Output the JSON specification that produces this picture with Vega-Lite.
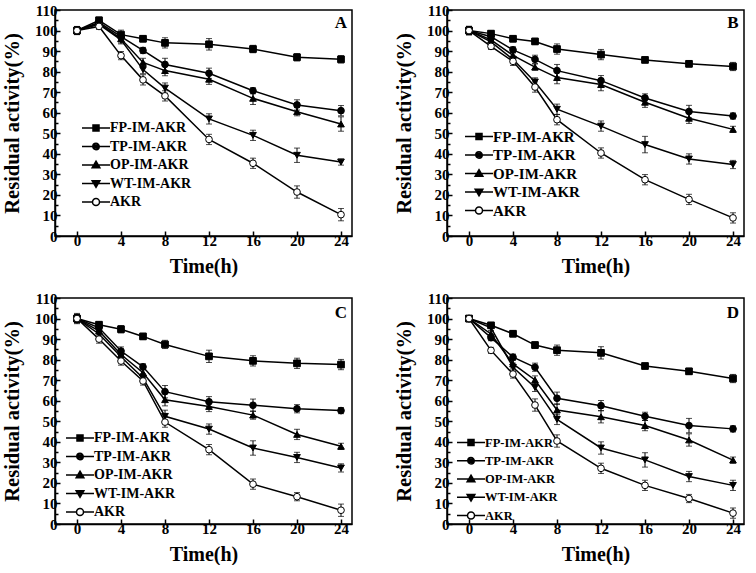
{
"$schema": "https://vega.github.io/schema/vega-lite/v6.json",
"padding": {"left": 1, "top": 2, "right": 0, "bottom": 0},
"background": "white",
"datasets": {
"labels": [{"p": "A"}, {"p": "B"}, {"p": "C"}, {"p": "D"}],
"d": [
{"p":"A","s":"FP-IM-AKR","t":0,"v":100,"lo":98.2,"hi":101.8},{"p":"A","s":"FP-IM-AKR","t":2,"v":105,"lo":103.5,"hi":106.5},{"p":"A","s":"FP-IM-AKR","t":4,"v":98,"lo":95.8,"hi":100.2},{"p":"A","s":"FP-IM-AKR","t":6,"v":96,"lo":94.5,"hi":97.5},{"p":"A","s":"FP-IM-AKR","t":8,"v":94,"lo":91.5,"hi":96.5},{"p":"A","s":"FP-IM-AKR","t":12,"v":93.3,"lo":90.5,"hi":96.1},{"p":"A","s":"FP-IM-AKR","t":16,"v":91,"lo":89.2,"hi":92.8},{"p":"A","s":"FP-IM-AKR","t":20,"v":87,"lo":85.2,"hi":88.8},{"p":"A","s":"FP-IM-AKR","t":24,"v":86,"lo":84.2,"hi":87.8},
{"p":"A","s":"TP-IM-AKR","t":0,"v":100,"lo":98.2,"hi":101.8},{"p":"A","s":"TP-IM-AKR","t":2,"v":104,"lo":102.8,"hi":105.2},{"p":"A","s":"TP-IM-AKR","t":4,"v":97,"lo":95,"hi":99},{"p":"A","s":"TP-IM-AKR","t":6,"v":90.3,"lo":88.8,"hi":91.8},{"p":"A","s":"TP-IM-AKR","t":8,"v":83.5,"lo":80.5,"hi":86.5},{"p":"A","s":"TP-IM-AKR","t":12,"v":79.2,"lo":76.7,"hi":81.7},{"p":"A","s":"TP-IM-AKR","t":16,"v":70.7,"lo":69.2,"hi":72.2},{"p":"A","s":"TP-IM-AKR","t":20,"v":63.8,"lo":61.3,"hi":66.3},{"p":"A","s":"TP-IM-AKR","t":24,"v":61,"lo":58.5,"hi":63.5},
{"p":"A","s":"OP-IM-AKR","t":0,"v":100,"lo":98.2,"hi":101.8},{"p":"A","s":"OP-IM-AKR","t":2,"v":103.5,"lo":102.5,"hi":104.5},{"p":"A","s":"OP-IM-AKR","t":4,"v":96,"lo":94,"hi":98},{"p":"A","s":"OP-IM-AKR","t":6,"v":84.5,"lo":82.5,"hi":86.5},{"p":"A","s":"OP-IM-AKR","t":8,"v":80.5,"lo":78,"hi":83},{"p":"A","s":"OP-IM-AKR","t":12,"v":76.3,"lo":73.8,"hi":78.8},{"p":"A","s":"OP-IM-AKR","t":16,"v":67,"lo":64,"hi":70},{"p":"A","s":"OP-IM-AKR","t":20,"v":60.5,"lo":58.5,"hi":62.5},{"p":"A","s":"OP-IM-AKR","t":24,"v":54.5,"lo":51,"hi":58},
{"p":"A","s":"WT-IM-AKR","t":0,"v":100,"lo":98.2,"hi":101.8},{"p":"A","s":"WT-IM-AKR","t":2,"v":103,"lo":102,"hi":104},{"p":"A","s":"WT-IM-AKR","t":4,"v":95.5,"lo":93.5,"hi":97.5},{"p":"A","s":"WT-IM-AKR","t":6,"v":81,"lo":79,"hi":83},{"p":"A","s":"WT-IM-AKR","t":8,"v":72,"lo":69.5,"hi":74.5},{"p":"A","s":"WT-IM-AKR","t":12,"v":57,"lo":54.5,"hi":59.5},{"p":"A","s":"WT-IM-AKR","t":16,"v":49,"lo":46.5,"hi":51.5},{"p":"A","s":"WT-IM-AKR","t":20,"v":39.3,"lo":35.8,"hi":42.8},{"p":"A","s":"WT-IM-AKR","t":24,"v":36,"lo":34.5,"hi":37.5},
{"p":"A","s":"AKR","t":0,"v":100,"lo":98,"hi":102},{"p":"A","s":"AKR","t":2,"v":102,"lo":100.5,"hi":103.5},{"p":"A","s":"AKR","t":4,"v":87.8,"lo":85.8,"hi":89.8},{"p":"A","s":"AKR","t":6,"v":76,"lo":73.5,"hi":78.5},{"p":"A","s":"AKR","t":8,"v":68.2,"lo":65.7,"hi":70.7},{"p":"A","s":"AKR","t":12,"v":47,"lo":44.5,"hi":49.5},{"p":"A","s":"AKR","t":16,"v":35.4,"lo":32.9,"hi":37.9},{"p":"A","s":"AKR","t":20,"v":21.4,"lo":18.4,"hi":24.4},{"p":"A","s":"AKR","t":24,"v":10.4,"lo":7.4,"hi":13.4},
{"p":"B","s":"FP-IM-AKR","t":0,"v":100,"lo":98,"hi":102},{"p":"B","s":"FP-IM-AKR","t":2,"v":98.5,"lo":97,"hi":100},{"p":"B","s":"FP-IM-AKR","t":4,"v":96,"lo":94.5,"hi":97.5},{"p":"B","s":"FP-IM-AKR","t":6,"v":94.7,"lo":93.2,"hi":96.2},{"p":"B","s":"FP-IM-AKR","t":8,"v":91,"lo":88.5,"hi":93.5},{"p":"B","s":"FP-IM-AKR","t":12,"v":88.3,"lo":85.8,"hi":90.8},{"p":"B","s":"FP-IM-AKR","t":16,"v":85.7,"lo":84.7,"hi":86.7},{"p":"B","s":"FP-IM-AKR","t":20,"v":83.8,"lo":82.3,"hi":85.3},{"p":"B","s":"FP-IM-AKR","t":24,"v":82.5,"lo":80.5,"hi":84.5},
{"p":"B","s":"TP-IM-AKR","t":0,"v":100,"lo":98,"hi":102},{"p":"B","s":"TP-IM-AKR","t":2,"v":97,"lo":95.5,"hi":98.5},{"p":"B","s":"TP-IM-AKR","t":4,"v":90.6,"lo":89.1,"hi":92.1},{"p":"B","s":"TP-IM-AKR","t":6,"v":86,"lo":84,"hi":88},{"p":"B","s":"TP-IM-AKR","t":8,"v":80.5,"lo":77.5,"hi":83.5},{"p":"B","s":"TP-IM-AKR","t":12,"v":75.6,"lo":73.1,"hi":78.1},{"p":"B","s":"TP-IM-AKR","t":16,"v":67.2,"lo":65.2,"hi":69.2},{"p":"B","s":"TP-IM-AKR","t":20,"v":60.6,"lo":57.6,"hi":63.6},{"p":"B","s":"TP-IM-AKR","t":24,"v":58.4,"lo":56.9,"hi":59.9},
{"p":"B","s":"OP-IM-AKR","t":0,"v":100,"lo":98,"hi":102},{"p":"B","s":"OP-IM-AKR","t":2,"v":95.5,"lo":94,"hi":97},{"p":"B","s":"OP-IM-AKR","t":4,"v":87.9,"lo":86.4,"hi":89.4},{"p":"B","s":"OP-IM-AKR","t":6,"v":82.2,"lo":80.7,"hi":83.7},{"p":"B","s":"OP-IM-AKR","t":8,"v":77.1,"lo":74.1,"hi":80.1},{"p":"B","s":"OP-IM-AKR","t":12,"v":73.7,"lo":70.7,"hi":76.7},{"p":"B","s":"OP-IM-AKR","t":16,"v":65.1,"lo":62.6,"hi":67.6},{"p":"B","s":"OP-IM-AKR","t":20,"v":57.3,"lo":54.8,"hi":59.8},{"p":"B","s":"OP-IM-AKR","t":24,"v":51.9,"lo":50.4,"hi":53.4},
{"p":"B","s":"WT-IM-AKR","t":0,"v":100,"lo":98,"hi":102},{"p":"B","s":"WT-IM-AKR","t":2,"v":94.5,"lo":93,"hi":96},{"p":"B","s":"WT-IM-AKR","t":4,"v":86,"lo":84.5,"hi":87.5},{"p":"B","s":"WT-IM-AKR","t":6,"v":75,"lo":73,"hi":77},{"p":"B","s":"WT-IM-AKR","t":8,"v":61.7,"lo":59.2,"hi":64.2},{"p":"B","s":"WT-IM-AKR","t":12,"v":53.5,"lo":51,"hi":56},{"p":"B","s":"WT-IM-AKR","t":16,"v":44.5,"lo":40.5,"hi":48.5},{"p":"B","s":"WT-IM-AKR","t":20,"v":37.5,"lo":35,"hi":40},{"p":"B","s":"WT-IM-AKR","t":24,"v":34.8,"lo":32.8,"hi":36.8},
{"p":"B","s":"AKR","t":0,"v":100,"lo":98,"hi":102},{"p":"B","s":"AKR","t":2,"v":92.3,"lo":90.8,"hi":93.8},{"p":"B","s":"AKR","t":4,"v":85,"lo":83,"hi":87},{"p":"B","s":"AKR","t":6,"v":72.5,"lo":70,"hi":75},{"p":"B","s":"AKR","t":8,"v":56.6,"lo":54.1,"hi":59.1},{"p":"B","s":"AKR","t":12,"v":40.4,"lo":37.9,"hi":42.9},{"p":"B","s":"AKR","t":16,"v":27.4,"lo":24.9,"hi":29.9},{"p":"B","s":"AKR","t":20,"v":17.8,"lo":15.3,"hi":20.3},{"p":"B","s":"AKR","t":24,"v":8.8,"lo":6.3,"hi":11.3},
{"p":"C","s":"FP-IM-AKR","t":0,"v":100,"lo":98,"hi":102},{"p":"C","s":"FP-IM-AKR","t":2,"v":97,"lo":95.5,"hi":98.5},{"p":"C","s":"FP-IM-AKR","t":4,"v":94.8,"lo":93,"hi":96.6},{"p":"C","s":"FP-IM-AKR","t":6,"v":91.3,"lo":89.8,"hi":92.8},{"p":"C","s":"FP-IM-AKR","t":8,"v":87.4,"lo":85.4,"hi":89.4},{"p":"C","s":"FP-IM-AKR","t":12,"v":81.6,"lo":78.6,"hi":84.6},{"p":"C","s":"FP-IM-AKR","t":16,"v":79.4,"lo":76.9,"hi":81.9},{"p":"C","s":"FP-IM-AKR","t":20,"v":78.2,"lo":75.7,"hi":80.7},{"p":"C","s":"FP-IM-AKR","t":24,"v":77.6,"lo":75.1,"hi":80.1},
{"p":"C","s":"TP-IM-AKR","t":0,"v":100,"lo":98,"hi":102},{"p":"C","s":"TP-IM-AKR","t":2,"v":95.5,"lo":94,"hi":97},{"p":"C","s":"TP-IM-AKR","t":4,"v":84.2,"lo":82.2,"hi":86.2},{"p":"C","s":"TP-IM-AKR","t":6,"v":76.5,"lo":75,"hi":78},{"p":"C","s":"TP-IM-AKR","t":8,"v":64.4,"lo":61.4,"hi":67.4},{"p":"C","s":"TP-IM-AKR","t":12,"v":59.5,"lo":57,"hi":62},{"p":"C","s":"TP-IM-AKR","t":16,"v":57.8,"lo":54.8,"hi":60.8},{"p":"C","s":"TP-IM-AKR","t":20,"v":56.1,"lo":54.1,"hi":58.1},{"p":"C","s":"TP-IM-AKR","t":24,"v":55.2,"lo":53.7,"hi":56.7},
{"p":"C","s":"OP-IM-AKR","t":0,"v":100,"lo":98,"hi":102},{"p":"C","s":"OP-IM-AKR","t":2,"v":94,"lo":92.5,"hi":95.5},{"p":"C","s":"OP-IM-AKR","t":4,"v":82.5,"lo":80.5,"hi":84.5},{"p":"C","s":"OP-IM-AKR","t":6,"v":73.6,"lo":71.6,"hi":75.6},{"p":"C","s":"OP-IM-AKR","t":8,"v":60.5,"lo":57.5,"hi":63.5},{"p":"C","s":"OP-IM-AKR","t":12,"v":57.2,"lo":54.7,"hi":59.7},{"p":"C","s":"OP-IM-AKR","t":16,"v":53,"lo":51,"hi":55},{"p":"C","s":"OP-IM-AKR","t":20,"v":43.6,"lo":41.1,"hi":46.1},{"p":"C","s":"OP-IM-AKR","t":24,"v":37.8,"lo":36.3,"hi":39.3},
{"p":"C","s":"WT-IM-AKR","t":0,"v":100,"lo":98,"hi":102},{"p":"C","s":"WT-IM-AKR","t":2,"v":92.5,"lo":91,"hi":94},{"p":"C","s":"WT-IM-AKR","t":4,"v":81.4,"lo":79.4,"hi":83.4},{"p":"C","s":"WT-IM-AKR","t":6,"v":71.1,"lo":69.1,"hi":73.1},{"p":"C","s":"WT-IM-AKR","t":8,"v":52.4,"lo":49.4,"hi":55.4},{"p":"C","s":"WT-IM-AKR","t":12,"v":46.2,"lo":43.7,"hi":48.7},{"p":"C","s":"WT-IM-AKR","t":16,"v":37,"lo":33.5,"hi":40.5},{"p":"C","s":"WT-IM-AKR","t":20,"v":32.4,"lo":29.9,"hi":34.9},{"p":"C","s":"WT-IM-AKR","t":24,"v":27.3,"lo":25.3,"hi":29.3},
{"p":"C","s":"AKR","t":0,"v":100,"lo":97.5,"hi":102.5},{"p":"C","s":"AKR","t":2,"v":90,"lo":88,"hi":92},{"p":"C","s":"AKR","t":4,"v":79.3,"lo":77.3,"hi":81.3},{"p":"C","s":"AKR","t":6,"v":69.6,"lo":67.6,"hi":71.6},{"p":"C","s":"AKR","t":8,"v":49.6,"lo":47.1,"hi":52.1},{"p":"C","s":"AKR","t":12,"v":36.2,"lo":33.7,"hi":38.7},{"p":"C","s":"AKR","t":16,"v":19.4,"lo":16.9,"hi":21.9},{"p":"C","s":"AKR","t":20,"v":13.3,"lo":11.3,"hi":15.3},{"p":"C","s":"AKR","t":24,"v":6.7,"lo":3.7,"hi":9.7},
{"p":"D","s":"FP-IM-AKR","t":0,"v":100,"lo":98.5,"hi":101.5},{"p":"D","s":"FP-IM-AKR","t":2,"v":96.7,"lo":95.7,"hi":97.7},{"p":"D","s":"FP-IM-AKR","t":4,"v":92.6,"lo":91.1,"hi":94.1},{"p":"D","s":"FP-IM-AKR","t":6,"v":87.1,"lo":85.6,"hi":88.6},{"p":"D","s":"FP-IM-AKR","t":8,"v":84.6,"lo":82.1,"hi":87.1},{"p":"D","s":"FP-IM-AKR","t":12,"v":83.3,"lo":80.3,"hi":86.3},{"p":"D","s":"FP-IM-AKR","t":16,"v":76.9,"lo":75.9,"hi":77.9},{"p":"D","s":"FP-IM-AKR","t":20,"v":74.3,"lo":72.8,"hi":75.8},{"p":"D","s":"FP-IM-AKR","t":24,"v":70.8,"lo":68.8,"hi":72.8},
{"p":"D","s":"TP-IM-AKR","t":0,"v":100,"lo":98.5,"hi":101.5},{"p":"D","s":"TP-IM-AKR","t":2,"v":90.7,"lo":89.2,"hi":92.2},{"p":"D","s":"TP-IM-AKR","t":4,"v":81.2,"lo":79.7,"hi":82.7},{"p":"D","s":"TP-IM-AKR","t":6,"v":76.3,"lo":74.3,"hi":78.3},{"p":"D","s":"TP-IM-AKR","t":8,"v":61.2,"lo":58.2,"hi":64.2},{"p":"D","s":"TP-IM-AKR","t":12,"v":57.6,"lo":55.1,"hi":60.1},{"p":"D","s":"TP-IM-AKR","t":16,"v":52.4,"lo":50.4,"hi":54.4},{"p":"D","s":"TP-IM-AKR","t":20,"v":47.9,"lo":44.4,"hi":51.4},{"p":"D","s":"TP-IM-AKR","t":24,"v":46.3,"lo":44.8,"hi":47.8},
{"p":"D","s":"OP-IM-AKR","t":0,"v":100,"lo":98.5,"hi":101.5},{"p":"D","s":"OP-IM-AKR","t":2,"v":92.5,"lo":91,"hi":94},{"p":"D","s":"OP-IM-AKR","t":4,"v":77.9,"lo":75.9,"hi":79.9},{"p":"D","s":"OP-IM-AKR","t":6,"v":70.1,"lo":68.1,"hi":72.1},{"p":"D","s":"OP-IM-AKR","t":8,"v":55.5,"lo":52.5,"hi":58.5},{"p":"D","s":"OP-IM-AKR","t":12,"v":52.2,"lo":49.2,"hi":55.2},{"p":"D","s":"OP-IM-AKR","t":16,"v":47.9,"lo":45.4,"hi":50.4},{"p":"D","s":"OP-IM-AKR","t":20,"v":40.9,"lo":37.9,"hi":43.9},{"p":"D","s":"OP-IM-AKR","t":24,"v":31.1,"lo":29.6,"hi":32.6},
{"p":"D","s":"WT-IM-AKR","t":0,"v":100,"lo":98.5,"hi":101.5},{"p":"D","s":"WT-IM-AKR","t":2,"v":95.5,"lo":94,"hi":97},{"p":"D","s":"WT-IM-AKR","t":4,"v":76.3,"lo":74.3,"hi":78.3},{"p":"D","s":"WT-IM-AKR","t":6,"v":66.5,"lo":64.5,"hi":68.5},{"p":"D","s":"WT-IM-AKR","t":8,"v":50.9,"lo":48.4,"hi":53.4},{"p":"D","s":"WT-IM-AKR","t":12,"v":37,"lo":34,"hi":40},{"p":"D","s":"WT-IM-AKR","t":16,"v":31.2,"lo":27.7,"hi":34.7},{"p":"D","s":"WT-IM-AKR","t":20,"v":23.1,"lo":20.6,"hi":25.6},{"p":"D","s":"WT-IM-AKR","t":24,"v":18.8,"lo":16.3,"hi":21.3},
{"p":"D","s":"AKR","t":0,"v":100,"lo":98.5,"hi":101.5},{"p":"D","s":"AKR","t":2,"v":84.5,"lo":83,"hi":86},{"p":"D","s":"AKR","t":4,"v":73,"lo":71,"hi":75},{"p":"D","s":"AKR","t":6,"v":57.9,"lo":54.9,"hi":60.9},{"p":"D","s":"AKR","t":8,"v":40.4,"lo":37.4,"hi":43.4},{"p":"D","s":"AKR","t":12,"v":27.1,"lo":24.6,"hi":29.6},{"p":"D","s":"AKR","t":16,"v":18.8,"lo":16.3,"hi":21.3},{"p":"D","s":"AKR","t":20,"v":12.4,"lo":10.4,"hi":14.4},{"p":"D","s":"AKR","t":24,"v":5.3,"lo":2.8,"hi":7.8}
]
},
"columns": 2,
"spacing": {"row": 13, "column": 40},
"concat": [
{
"width": 297, "height": 226,
"data": {"name": "d"},
"transform": [{"filter": "datum.p === 'A'"}],
"layer": [
{"mark": {"type": "line", "color": "black", "strokeWidth": 1.5},
 "encoding": {
  "x": {"field": "t", "type": "quantitative", "title": "Time(h)", "scale": {"domain": [-2, 25], "nice": false, "zero": false},
        "axis": {"values": [0,2,4,6,8,10,12,14,16,18,20,22,24], "labelOverlap": false, "labelExpr": "datum.value % 4 === 0 ? datum.label : ''", "tickSize": {"condition": {"test": "datum.value % 4 === 0", "value": -5}, "value": -3}}},
  "y": {"field": "v", "type": "quantitative", "title": "Residual activity(%)", "scale": {"domain": [0, 110], "nice": false},
        "axis": {"tickCount": 22, "labelOverlap": false, "labelExpr": "datum.value % 10 === 0 ? datum.label : ''", "tickSize": {"condition": {"test": "datum.value % 10 === 0", "value": -5}, "value": -3}}},
  "detail": {"field": "s"}}},
{"mark": {"type": "rule", "color": "black", "strokeWidth": 1},
 "encoding": {"x": {"field": "t", "type": "quantitative", "title": "Time(h)"}, "y": {"field": "lo", "type": "quantitative", "title": "Residual activity(%)"}, "y2": {"field": "hi"}}},
{"mark": {"type": "tick", "orient": "horizontal", "color": "black", "thickness": 1, "size": 6},
 "encoding": {"x": {"field": "t", "type": "quantitative", "title": "Time(h)"}, "y": {"field": "lo", "type": "quantitative", "title": "Residual activity(%)"}}},
{"mark": {"type": "tick", "orient": "horizontal", "color": "black", "thickness": 1, "size": 6},
 "encoding": {"x": {"field": "t", "type": "quantitative", "title": "Time(h)"}, "y": {"field": "hi", "type": "quantitative", "title": "Residual activity(%)"}}},
{"mark": {"type": "point", "filled": true, "stroke": "black", "strokeWidth": 1, "size": 45, "opacity": 1},
 "encoding": {"x": {"field": "t", "type": "quantitative", "title": "Time(h)"}, "y": {"field": "v", "type": "quantitative", "title": "Residual activity(%)"},
  "shape": {"field": "s", "scale": {"domain": ["FP-IM-AKR","TP-IM-AKR","OP-IM-AKR","WT-IM-AKR","AKR"], "range": ["square","circle","triangle-up","triangle-down","circle"]}, "legend": null},
  "fill": {"field": "s", "scale": {"domain": ["FP-IM-AKR","TP-IM-AKR","OP-IM-AKR","WT-IM-AKR","AKR"], "range": ["black","black","black","black","white"]}, "legend": null}}},
{"transform": [{"filter": "datum.t < -100"}],
 "mark": {"type": "point", "color": "black", "strokeWidth": 1.5, "size": 196, "opacity": 1},
 "encoding": {
  "shape": {"field": "s", "scale": {"domain": ["FP-IM-AKR","TP-IM-AKR","OP-IM-AKR","WT-IM-AKR","AKR"], "range": ["M-1,0H3M0.57,-0.43H1.43V0.43H0.57ZM0.57,-0.21H1.43M0.57,0.21H1.43","M-1,0H3M0.54,0A0.46,0.46 0 1,0 1.46,0A0.46,0.46 0 1,0 0.54,0M0.6,-0.22H1.4M0.6,0.22H1.4","M-1,0H3M1,-0.55L1.55,0.38H0.45ZM0.56,0.19H1.44M0.79,-0.19H1.21M0.9,-0.38H1.1","M-1,0H3M1,0.55L1.55,-0.38H0.45ZM0.56,-0.19H1.44M0.79,0.19H1.21M0.9,0.38H1.1","M-1,0H0.5M1.5,0H3M0.5,0A0.5,0.5 0 1,0 1.5,0A0.5,0.5 0 1,0 0.5,0"]},
   "legend": {"title": null, "orient": "none", "legendX": 26, "legendY": 110, "labelFontSize": 14, "rowPadding": 3.5}}}},
{"data": {"name": "labels"}, "transform": [{"filter": "datum.p === 'A'"}],
 "mark": {"type": "text", "font": "Liberation Serif", "fontWeight": "bold", "fontSize": 17, "color": "black", "baseline": "middle"},
 "encoding": {"x": {"datum": 24, "title": "Time(h)"}, "y": {"datum": 103.5, "title": "Residual activity(%)"}, "text": {"field": "p"}}}
],
"resolve": {"scale": {"shape": "independent"}}
},
{
"width": 297, "height": 226,
"data": {"name": "d"},
"transform": [{"filter": "datum.p === 'B'"}],
"layer": [
{"mark": {"type": "line", "color": "black", "strokeWidth": 1.5},
 "encoding": {
  "x": {"field": "t", "type": "quantitative", "title": "Time(h)", "scale": {"domain": [-2, 25], "nice": false, "zero": false},
        "axis": {"values": [0,2,4,6,8,10,12,14,16,18,20,22,24], "labelOverlap": false, "labelExpr": "datum.value % 4 === 0 ? datum.label : ''", "tickSize": {"condition": {"test": "datum.value % 4 === 0", "value": -5}, "value": -3}}},
  "y": {"field": "v", "type": "quantitative", "title": "Residual activity(%)", "scale": {"domain": [0, 110], "nice": false},
        "axis": {"tickCount": 22, "labelOverlap": false, "labelExpr": "datum.value % 10 === 0 ? datum.label : ''", "tickSize": {"condition": {"test": "datum.value % 10 === 0", "value": -5}, "value": -3}}},
  "detail": {"field": "s"}}},
{"mark": {"type": "rule", "color": "black", "strokeWidth": 1},
 "encoding": {"x": {"field": "t", "type": "quantitative", "title": "Time(h)"}, "y": {"field": "lo", "type": "quantitative", "title": "Residual activity(%)"}, "y2": {"field": "hi"}}},
{"mark": {"type": "tick", "orient": "horizontal", "color": "black", "thickness": 1, "size": 6},
 "encoding": {"x": {"field": "t", "type": "quantitative", "title": "Time(h)"}, "y": {"field": "lo", "type": "quantitative", "title": "Residual activity(%)"}}},
{"mark": {"type": "tick", "orient": "horizontal", "color": "black", "thickness": 1, "size": 6},
 "encoding": {"x": {"field": "t", "type": "quantitative", "title": "Time(h)"}, "y": {"field": "hi", "type": "quantitative", "title": "Residual activity(%)"}}},
{"mark": {"type": "point", "filled": true, "stroke": "black", "strokeWidth": 1, "size": 45, "opacity": 1},
 "encoding": {"x": {"field": "t", "type": "quantitative", "title": "Time(h)"}, "y": {"field": "v", "type": "quantitative", "title": "Residual activity(%)"},
  "shape": {"field": "s", "scale": {"domain": ["FP-IM-AKR","TP-IM-AKR","OP-IM-AKR","WT-IM-AKR","AKR"], "range": ["square","circle","triangle-up","triangle-down","circle"]}, "legend": null},
  "fill": {"field": "s", "scale": {"domain": ["FP-IM-AKR","TP-IM-AKR","OP-IM-AKR","WT-IM-AKR","AKR"], "range": ["black","black","black","black","white"]}, "legend": null}}},
{"transform": [{"filter": "datum.t < -100"}],
 "mark": {"type": "point", "color": "black", "strokeWidth": 1.5, "size": 196, "opacity": 1},
 "encoding": {
  "shape": {"field": "s", "scale": {"domain": ["FP-IM-AKR","TP-IM-AKR","OP-IM-AKR","WT-IM-AKR","AKR"], "range": ["M-1,0H3M0.57,-0.43H1.43V0.43H0.57ZM0.57,-0.21H1.43M0.57,0.21H1.43","M-1,0H3M0.54,0A0.46,0.46 0 1,0 1.46,0A0.46,0.46 0 1,0 0.54,0M0.6,-0.22H1.4M0.6,0.22H1.4","M-1,0H3M1,-0.55L1.55,0.38H0.45ZM0.56,0.19H1.44M0.79,-0.19H1.21M0.9,-0.38H1.1","M-1,0H3M1,0.55L1.55,-0.38H0.45ZM0.56,-0.19H1.44M0.79,0.19H1.21M0.9,0.38H1.1","M-1,0H0.5M1.5,0H3M0.5,0A0.5,0.5 0 1,0 1.5,0A0.5,0.5 0 1,0 0.5,0"]},
   "legend": {"title": null, "orient": "none", "legendX": 17, "legendY": 118.5, "labelFontSize": 15, "rowPadding": 2.5}}}},
{"data": {"name": "labels"}, "transform": [{"filter": "datum.p === 'B'"}],
 "mark": {"type": "text", "font": "Liberation Serif", "fontWeight": "bold", "fontSize": 17, "color": "black", "baseline": "middle"},
 "encoding": {"x": {"datum": 24, "title": "Time(h)"}, "y": {"datum": 103.5, "title": "Residual activity(%)"}, "text": {"field": "p"}}}
],
"resolve": {"scale": {"shape": "independent"}}
},
{
"width": 297, "height": 226,
"data": {"name": "d"},
"transform": [{"filter": "datum.p === 'C'"}],
"layer": [
{"mark": {"type": "line", "color": "black", "strokeWidth": 1.5},
 "encoding": {
  "x": {"field": "t", "type": "quantitative", "title": "Time(h)", "scale": {"domain": [-2, 25], "nice": false, "zero": false},
        "axis": {"values": [0,2,4,6,8,10,12,14,16,18,20,22,24], "labelOverlap": false, "labelExpr": "datum.value % 4 === 0 ? datum.label : ''", "tickSize": {"condition": {"test": "datum.value % 4 === 0", "value": -5}, "value": -3}}},
  "y": {"field": "v", "type": "quantitative", "title": "Residual activity(%)", "scale": {"domain": [0, 110], "nice": false},
        "axis": {"tickCount": 22, "labelOverlap": false, "labelExpr": "datum.value % 10 === 0 ? datum.label : ''", "tickSize": {"condition": {"test": "datum.value % 10 === 0", "value": -5}, "value": -3}}},
  "detail": {"field": "s"}}},
{"mark": {"type": "rule", "color": "black", "strokeWidth": 1},
 "encoding": {"x": {"field": "t", "type": "quantitative", "title": "Time(h)"}, "y": {"field": "lo", "type": "quantitative", "title": "Residual activity(%)"}, "y2": {"field": "hi"}}},
{"mark": {"type": "tick", "orient": "horizontal", "color": "black", "thickness": 1, "size": 6},
 "encoding": {"x": {"field": "t", "type": "quantitative", "title": "Time(h)"}, "y": {"field": "lo", "type": "quantitative", "title": "Residual activity(%)"}}},
{"mark": {"type": "tick", "orient": "horizontal", "color": "black", "thickness": 1, "size": 6},
 "encoding": {"x": {"field": "t", "type": "quantitative", "title": "Time(h)"}, "y": {"field": "hi", "type": "quantitative", "title": "Residual activity(%)"}}},
{"mark": {"type": "point", "filled": true, "stroke": "black", "strokeWidth": 1, "size": 45, "opacity": 1},
 "encoding": {"x": {"field": "t", "type": "quantitative", "title": "Time(h)"}, "y": {"field": "v", "type": "quantitative", "title": "Residual activity(%)"},
  "shape": {"field": "s", "scale": {"domain": ["FP-IM-AKR","TP-IM-AKR","OP-IM-AKR","WT-IM-AKR","AKR"], "range": ["square","circle","triangle-up","triangle-down","circle"]}, "legend": null},
  "fill": {"field": "s", "scale": {"domain": ["FP-IM-AKR","TP-IM-AKR","OP-IM-AKR","WT-IM-AKR","AKR"], "range": ["black","black","black","black","white"]}, "legend": null}}},
{"transform": [{"filter": "datum.t < -100"}],
 "mark": {"type": "point", "color": "black", "strokeWidth": 1.5, "size": 196, "opacity": 1},
 "encoding": {
  "shape": {"field": "s", "scale": {"domain": ["FP-IM-AKR","TP-IM-AKR","OP-IM-AKR","WT-IM-AKR","AKR"], "range": ["M-1,0H3M0.57,-0.43H1.43V0.43H0.57ZM0.57,-0.21H1.43M0.57,0.21H1.43","M-1,0H3M0.54,0A0.46,0.46 0 1,0 1.46,0A0.46,0.46 0 1,0 0.54,0M0.6,-0.22H1.4M0.6,0.22H1.4","M-1,0H3M1,-0.55L1.55,0.38H0.45ZM0.56,0.19H1.44M0.79,-0.19H1.21M0.9,-0.38H1.1","M-1,0H3M1,0.55L1.55,-0.38H0.45ZM0.56,-0.19H1.44M0.79,0.19H1.21M0.9,0.38H1.1","M-1,0H0.5M1.5,0H3M0.5,0A0.5,0.5 0 1,0 1.5,0A0.5,0.5 0 1,0 0.5,0"]},
   "legend": {"title": null, "orient": "none", "legendX": 10, "legendY": 132, "labelFontSize": 14, "rowPadding": 3.5}}}},
{"data": {"name": "labels"}, "transform": [{"filter": "datum.p === 'C'"}],
 "mark": {"type": "text", "font": "Liberation Serif", "fontWeight": "bold", "fontSize": 17, "color": "black", "baseline": "middle"},
 "encoding": {"x": {"datum": 24, "title": "Time(h)"}, "y": {"datum": 102.5, "title": "Residual activity(%)"}, "text": {"field": "p"}}}
],
"resolve": {"scale": {"shape": "independent"}}
},
{
"width": 297, "height": 226,
"data": {"name": "d"},
"transform": [{"filter": "datum.p === 'D'"}],
"layer": [
{"mark": {"type": "line", "color": "black", "strokeWidth": 1.5},
 "encoding": {
  "x": {"field": "t", "type": "quantitative", "title": "Time(h)", "scale": {"domain": [-2, 25], "nice": false, "zero": false},
        "axis": {"values": [0,2,4,6,8,10,12,14,16,18,20,22,24], "labelOverlap": false, "labelExpr": "datum.value % 4 === 0 ? datum.label : ''", "tickSize": {"condition": {"test": "datum.value % 4 === 0", "value": -5}, "value": -3}}},
  "y": {"field": "v", "type": "quantitative", "title": "Residual activity(%)", "scale": {"domain": [0, 110], "nice": false},
        "axis": {"tickCount": 22, "labelOverlap": false, "labelExpr": "datum.value % 10 === 0 ? datum.label : ''", "tickSize": {"condition": {"test": "datum.value % 10 === 0", "value": -5}, "value": -3}}},
  "detail": {"field": "s"}}},
{"mark": {"type": "rule", "color": "black", "strokeWidth": 1},
 "encoding": {"x": {"field": "t", "type": "quantitative", "title": "Time(h)"}, "y": {"field": "lo", "type": "quantitative", "title": "Residual activity(%)"}, "y2": {"field": "hi"}}},
{"mark": {"type": "tick", "orient": "horizontal", "color": "black", "thickness": 1, "size": 6},
 "encoding": {"x": {"field": "t", "type": "quantitative", "title": "Time(h)"}, "y": {"field": "lo", "type": "quantitative", "title": "Residual activity(%)"}}},
{"mark": {"type": "tick", "orient": "horizontal", "color": "black", "thickness": 1, "size": 6},
 "encoding": {"x": {"field": "t", "type": "quantitative", "title": "Time(h)"}, "y": {"field": "hi", "type": "quantitative", "title": "Residual activity(%)"}}},
{"mark": {"type": "point", "filled": true, "stroke": "black", "strokeWidth": 1, "size": 45, "opacity": 1},
 "encoding": {"x": {"field": "t", "type": "quantitative", "title": "Time(h)"}, "y": {"field": "v", "type": "quantitative", "title": "Residual activity(%)"},
  "shape": {"field": "s", "scale": {"domain": ["FP-IM-AKR","TP-IM-AKR","OP-IM-AKR","WT-IM-AKR","AKR"], "range": ["square","circle","triangle-up","triangle-down","circle"]}, "legend": null},
  "fill": {"field": "s", "scale": {"domain": ["FP-IM-AKR","TP-IM-AKR","OP-IM-AKR","WT-IM-AKR","AKR"], "range": ["black","black","black","black","white"]}, "legend": null}}},
{"transform": [{"filter": "datum.t < -100"}],
 "mark": {"type": "point", "color": "black", "strokeWidth": 1.5, "size": 196, "opacity": 1},
 "encoding": {
  "shape": {"field": "s", "scale": {"domain": ["FP-IM-AKR","TP-IM-AKR","OP-IM-AKR","WT-IM-AKR","AKR"], "range": ["M-1,0H3M0.57,-0.43H1.43V0.43H0.57ZM0.57,-0.21H1.43M0.57,0.21H1.43","M-1,0H3M0.54,0A0.46,0.46 0 1,0 1.46,0A0.46,0.46 0 1,0 0.54,0M0.6,-0.22H1.4M0.6,0.22H1.4","M-1,0H3M1,-0.55L1.55,0.38H0.45ZM0.56,0.19H1.44M0.79,-0.19H1.21M0.9,-0.38H1.1","M-1,0H3M1,0.55L1.55,-0.38H0.45ZM0.56,-0.19H1.44M0.79,0.19H1.21M0.9,0.38H1.1","M-1,0H0.5M1.5,0H3M0.5,0A0.5,0.5 0 1,0 1.5,0A0.5,0.5 0 1,0 0.5,0"]},
   "legend": {"title": null, "orient": "none", "legendX": 9, "legendY": 136.5, "labelFontSize": 12.5, "rowPadding": 3.25}}}},
{"data": {"name": "labels"}, "transform": [{"filter": "datum.p === 'D'"}],
 "mark": {"type": "text", "font": "Liberation Serif", "fontWeight": "bold", "fontSize": 17, "color": "black", "baseline": "middle"},
 "encoding": {"x": {"datum": 24, "title": "Time(h)"}, "y": {"datum": 102.5, "title": "Residual activity(%)"}, "text": {"field": "p"}}}
],
"resolve": {"scale": {"shape": "independent"}}
}
],
"resolve": {"scale": {"shape": "independent"}, "legend": {"shape": "independent"}},
"config": {
 "view": {"stroke": "black", "strokeWidth": 1.5},
 "axis": {"grid": false, "domainColor": "black", "domainWidth": 1.5, "tickColor": "black", "tickWidth": 1.5,
  "labelFont": "Liberation Serif", "labelFontWeight": "bold", "labelFontSize": 15, "labelColor": "black", "labelOverlap": false, "labelFlush": false,
  "titleFont": "Liberation Serif", "titleFontWeight": "bold", "titleColor": "black"},
 "axisX": {"titleFontSize": 20, "labelPadding": 2, "titlePadding": 8},
 "axisY": {"titleFontSize": 20.5, "labelPadding": 3, "titlePadding": 12},
 "legend": {"labelFont": "Liberation Serif", "labelFontWeight": "bold", "labelColor": "black", "symbolSize": 196, "symbolStrokeWidth": 1.5, "symbolStrokeColor": "black", "labelOffset": 13}
}
}
